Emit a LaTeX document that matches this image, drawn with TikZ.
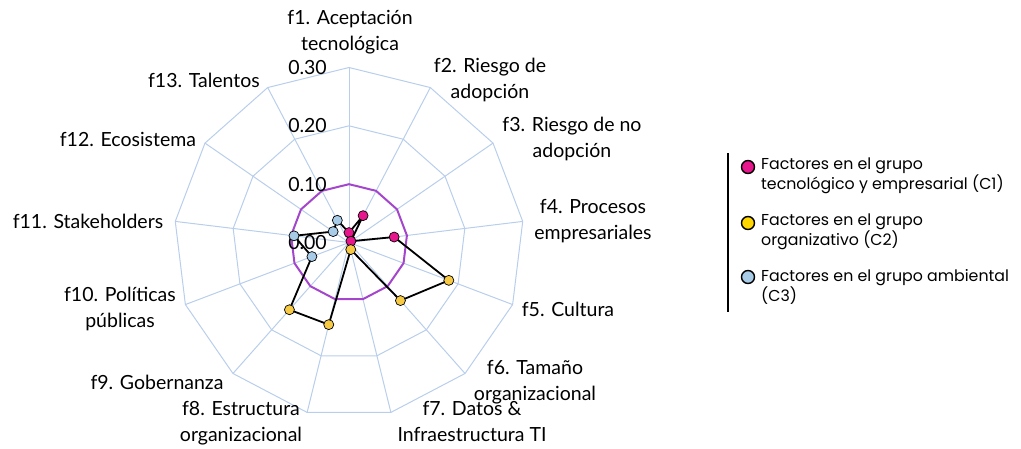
\documentclass[tikz,border=0pt]{standalone}
\usepackage{fontspec}
\setmainfont{Lato}
\newfontfamily\legfont{Poppins}
\usetikzlibrary{calc,positioning}

\definecolor{gridblue}{RGB}{184,206,236}
\definecolor{cone}{RGB}{232,22,140}
\definecolor{ctwo}{RGB}{247,202,70}
\definecolor{ctwoleg}{RGB}{255,214,0}
\definecolor{cthree}{RGB}{168,204,232}
\definecolor{ringpurple}{RGB}{164,70,204}

\def\ang#1{(-90+(#1-1)*360/13)}

\tikzset{
	grid/.style={draw=gridblue, line width=1pt},
	axislabel/.style={font=\fontsize{19.5}{26}\selectfont, align=center, inner sep=0pt},
	ticklabel/.style={font=\fontsize{19.5}{22}\selectfont, anchor=east, inner sep=0pt},
	dot/.style={circle, draw=black, line width=0.7pt, minimum size=10pt, inner sep=0pt},
	legdot/.style={circle, draw=black, line width=1.4pt, minimum size=13pt, inner sep=0pt},
	legtext/.style={font=\legfont\fontsize{15.8}{19}\selectfont, align=left, anchor=west, inner sep=0pt},
}

\begin{document}
\begin{tikzpicture}[x=1pt,y=-1pt]
		%%%%% START %%%%%
		\useasboundingbox (0,0) rectangle (1021,448);
		
		\begin{scope}[shift={(349,242.5)}]
			% spokes and rings
			\foreach \k in {1,...,13}
				\draw[grid] (0,0) -- ({\ang{\k}}:175);
			\foreach \r in {116.67,175}
				\draw[grid] ({\ang{1}}:\r) \foreach \k in {2,...,13}{ -- ({\ang{\k}}:\r)} -- cycle;
			\draw[ringpurple, line width=2pt, line join=round] ({\ang{1}}:58.33) \foreach \k in {2,...,13}{ -- ({\ang{\k}}:58.33)} -- cycle;
			
			\node[ticklabel] (t0) at (-22,0) {0.00};
			\node[ticklabel] (t1) at (-22,-58.33) {0.10};
			\node[ticklabel] (t2) at (-22,-116.67) {0.20};
			\node[ticklabel] (t3) at (-22,-175) {0.30};
			
			% values
			\foreach \v [count=\k] in {0.017,0.052,0.004,0.078,0.183,0.133,0.0125,0.145,0.154,0.068,0.095,0.033,0.043}
				\coordinate (p\k) at ({\ang{\k}}:{\v*583.33});
			\draw[line width=1.8pt, line join=round] (p1) -- (p2) -- (p3) -- (p4) -- (p5) -- (p6) -- (p7) -- (p8) -- (p9) -- (p10) -- (p11) -- (p12) -- (p13) -- cycle;
			\foreach \k in {1,...,4}
				\node[dot, fill=cone] (d\k) at (p\k) {};
			\foreach \k in {5,...,9}
				\node[dot, fill=ctwo] (d\k) at (p\k) {};
			\foreach \k in {10,...,13}
				\node[dot, fill=cthree] (d\k) at (p\k) {};
		\end{scope}
		
		% axis labels
		\node[axislabel] (f1) at (350,32) {f1. Aceptación\\tecnológica};
		\node[axislabel] (f2) at (490,80) {f2. Riesgo de\\adopción};
		\node[axislabel] (f3) at (572,139) {f3. Riesgo de no\\adopción};
		\node[axislabel] (f4) at (593,221) {f4. Procesos\\empresariales};
		\node[axislabel] (f5) at (568,309) {f5. Cultura};
		\node[axislabel] (f6) at (535,382) {f6. Tamaño\\organizacional};
		\node[axislabel] (f7) at (472,421) {f7. Datos \&\\Infraestructura TI};
		\node[axislabel] (f8) at (241,423) {f8. Estructura\\organizacional};
		\node[axislabel] (f9) at (157,382) {f9. Gobernanza};
		\node[axislabel] (f10) at (120,308.5) {f10. Políticas\\públicas};
		\node[axislabel] (f11) at (88,221) {f11. Stakeholders};
		\node[axislabel] (f12) at (128,139) {f12. Ecosistema};
		\node[axislabel] (f13) at (204,80) {f13. Talentos};
		
		% legend
		\draw[line width=2pt] (728,153) -- (728,312);
		\node[legdot, fill=cone] (k1) at (748,167) {};
		\node[legdot, fill=ctwoleg] (k2) at (748,223) {};
		\node[legdot, fill=cthree] (k3) at (748,277) {};
		\node[legtext] (g1) at (761,175.5) {Factores en el grupo\\tecnológico y empresarial (C1)};
		\node[legtext] (g2) at (761,231.5) {Factores en el grupo\\organizativo (C2)};
		\node[legtext] (g3) at (761,287) {Factores en el grupo ambiental\\(C3)};
		%%%%% END %%%%%
\end{tikzpicture}
\end{document}
